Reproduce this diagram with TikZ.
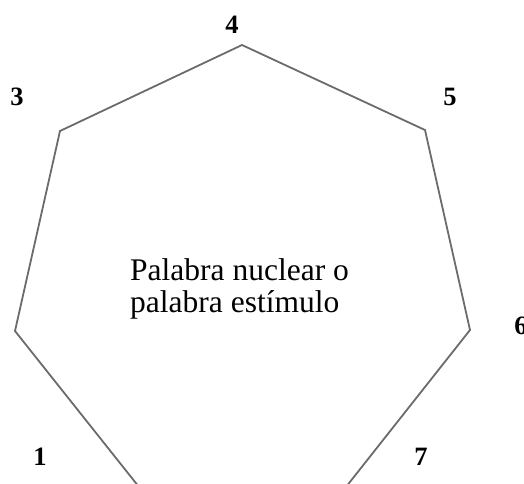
\documentclass[tikz,border=0pt]{standalone}
\usepackage{fontspec}
\setmainfont{Liberation Serif}
\begin{document}
\begin{tikzpicture}[x=1pt,y=-1pt,
  edge/.style={draw=black!58,line width=1.8pt,line join=miter},
  num/.style={font=\fontsize{26.5}{26.5}\selectfont\bfseries,inner sep=0pt,anchor=center},
  body/.style={font=\fontsize{31.5}{32}\selectfont,align=left,inner sep=0pt}]
\useasboundingbox (0,0) rectangle (524,483);
\begin{scope}
\clip (0,0) rectangle (524,483);
\coordinate (T) at (242,45);
\coordinate (UL) at (60,131);
\coordinate (UR) at (425,130);
\coordinate (L) at (15,331);
\coordinate (R) at (470,330);
\coordinate (BL) at (143,492);
\coordinate (BR) at (342,492);
\draw[edge] (T) -- (UR) -- (R) -- (BR) -- (BL) -- (L) -- (UL) -- cycle;
\node[num] (n4) at (232,25) {4};
\node[num] (n3) at (17,97) {3};
\node[num] (n5) at (450,97) {5};
\node[num] (n6) at (521,326) {6};
\node[num] (n1) at (40,457) {1};
\node[num] (n7) at (421,457) {7};
\end{scope}
\node[body,anchor=north west] (txt) at (130,258) {Palabra nuclear o\\palabra estímulo};
\end{tikzpicture}
\end{document}
